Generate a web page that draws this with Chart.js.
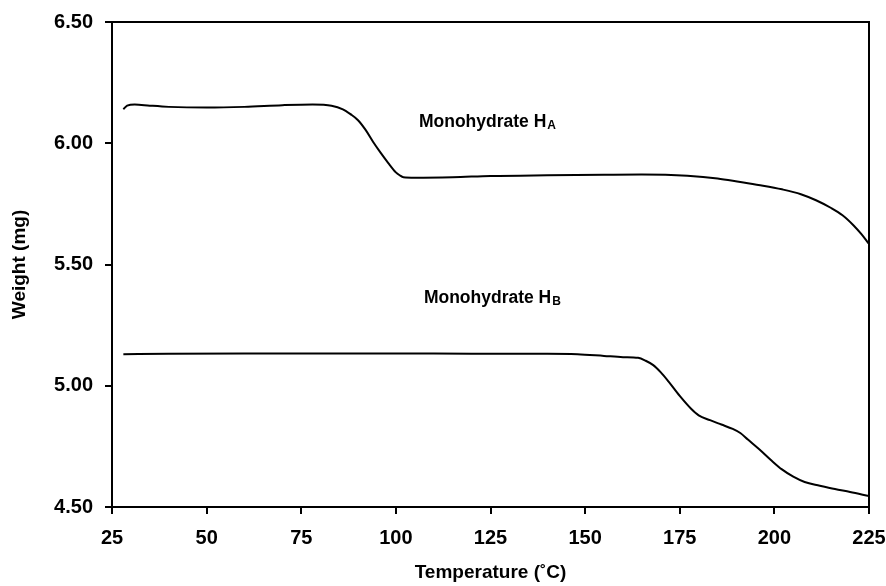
<!DOCTYPE html>
<html>
<head>
<meta charset="utf-8">
<title>TGA monohydrates</title>
<script src="https://cdn.jsdelivr.net/npm/chart.js@4.4.1/dist/chart.umd.min.js"></script>
<style>
  html, body { margin: 0; padding: 0; background: #fff; }
  #tga { display: block; }
</style>
</head>
<body>
<canvas id="tga" width="886" height="586"></canvas>
<script>
// temperature (°C) / weight (mg) for the two monohydrate forms
const tempA = [28, 29, 31, 35, 40, 50, 60, 70, 78, 83, 86, 88, 90, 92, 94, 96, 98, 100, 101, 102, 105, 115, 125, 140, 155, 165, 177, 185, 191, 197, 202, 207, 211, 215, 218, 221, 223, 225];
const weightA = [6.140, 6.155, 6.160, 6.155, 6.150, 6.147, 6.150, 6.157, 6.160, 6.155, 6.140, 6.120, 6.095, 6.055, 6.005, 5.960, 5.918, 5.880, 5.868, 5.860, 5.858, 5.860, 5.865, 5.868, 5.870, 5.871, 5.866, 5.855, 5.840, 5.825, 5.810, 5.790, 5.765, 5.733, 5.703, 5.660, 5.625, 5.585];

const tempB = [28, 40, 60, 80, 100, 120, 140, 148, 155, 160, 164, 166, 168, 170, 172, 175, 178, 180, 183, 186, 189, 191, 193, 196, 199, 202, 205, 208, 212, 216, 220, 225];
const weightB = [5.130, 5.132, 5.133, 5.133, 5.133, 5.132, 5.132, 5.130, 5.123, 5.118, 5.115, 5.103, 5.085, 5.055, 5.018, 4.958, 4.905, 4.878, 4.858, 4.840, 4.822, 4.805, 4.778, 4.738, 4.695, 4.655, 4.625, 4.603, 4.588, 4.574, 4.562, 4.545];

const xTicks = [25, 50, 75, 100, 125, 150, 175, 200, 225];
const yTicks = [4.5, 5.0, 5.5, 6.0, 6.5];

const FONT = '"Liberation Sans", Arial, Helvetica, sans-serif';

const toPoints = (xs, ys) => xs.map((x, i) => ({ x: x, y: ys[i] }));

// curve labels, anchored in data units
const curveLabels = [
  { text: 'Monohydrate H', sub: 'A', x: 106.1, y: 6.068 },
  { text: 'Monohydrate H', sub: 'B', x: 107.4, y: 5.343 }
];

const framePlugin = {
  id: 'frame',
  afterDatasetsDraw(chart) {
    const { ctx, chartArea: a, scales } = chart;
    ctx.save();
    ctx.strokeStyle = '#000';
    ctx.lineWidth = 2;
    ctx.beginPath();
    ctx.moveTo(a.left, a.top);
    ctx.lineTo(a.right, a.top);
    ctx.lineTo(a.right, a.bottom);
    ctx.stroke();

    ctx.fillStyle = '#000';
    ctx.textBaseline = 'alphabetic';
    ctx.textAlign = 'left';
    curveLabels.forEach(l => {
      const px = scales.x.getPixelForValue(l.x);
      const py = scales.y.getPixelForValue(l.y);
      ctx.font = 'bold 17.5px ' + FONT;
      ctx.fillText(l.text, px, py);
      const w = ctx.measureText(l.text).width;
      ctx.font = 'bold 12px ' + FONT;
      ctx.fillText(l.sub, px + w + 1, py + 2);
    });
    ctx.restore();
  }
};

Chart.defaults.color = '#000';
Chart.defaults.font.family = FONT;

new Chart(document.getElementById('tga'), {
  type: 'line',
  data: {
    datasets: [
      {
        label: 'Monohydrate HA',
        data: toPoints(tempA, weightA),
        borderColor: '#000',
        borderWidth: 2,
        pointRadius: 0,
        cubicInterpolationMode: 'monotone',
        fill: false
      },
      {
        label: 'Monohydrate HB',
        data: toPoints(tempB, weightB),
        borderColor: '#000',
        borderWidth: 2,
        pointRadius: 0,
        cubicInterpolationMode: 'monotone',
        fill: false
      }
    ]
  },
  options: {
    responsive: false,
    animation: false,
    layout: { padding: { top: 22, right: 17, bottom: 0, left: 0 } },
    plugins: {
      legend: { display: false },
      tooltip: { enabled: false }
    },
    scales: {
      x: {
        type: 'linear',
        min: 25,
        max: 225,
        afterBuildTicks: s => { s.ticks = xTicks.map(v => ({ value: v })); },
        afterFit: s => { s.height = 79; s.paddingLeft = 0; s.paddingRight = 0; },
        border: { color: '#000', width: 2 },
        grid: { drawOnChartArea: false, color: '#000', lineWidth: 2, tickLength: 7 },
        ticks: { font: { size: 20, weight: 'bold' }, padding: 12, maxRotation: 0 },
        title: {
          display: true,
          text: 'Temperature (˚C)',
          font: { size: 19, weight: 'bold' },
          padding: { top: 0, bottom: 2 }
        }
      },
      y: {
        min: 4.5,
        max: 6.5,
        afterBuildTicks: s => { s.ticks = yTicks.map(v => ({ value: v })); },
        afterFit: s => { s.width = 112; s.paddingTop = 0; s.paddingBottom = 0; },
        border: { color: '#000', width: 2 },
        grid: { drawOnChartArea: false, color: '#000', lineWidth: 2, tickLength: 7 },
        ticks: {
          font: { size: 20, weight: 'bold' },
          padding: 12,
          callback: v => Number(v).toFixed(2)
        },
        title: {
          display: true,
          text: 'Weight (mg)',
          font: { size: 19, weight: 'bold' },
          padding: { top: 8, bottom: 0 }
        }
      }
    }
  },
  plugins: [framePlugin]
});
</script>
</body>
</html>
